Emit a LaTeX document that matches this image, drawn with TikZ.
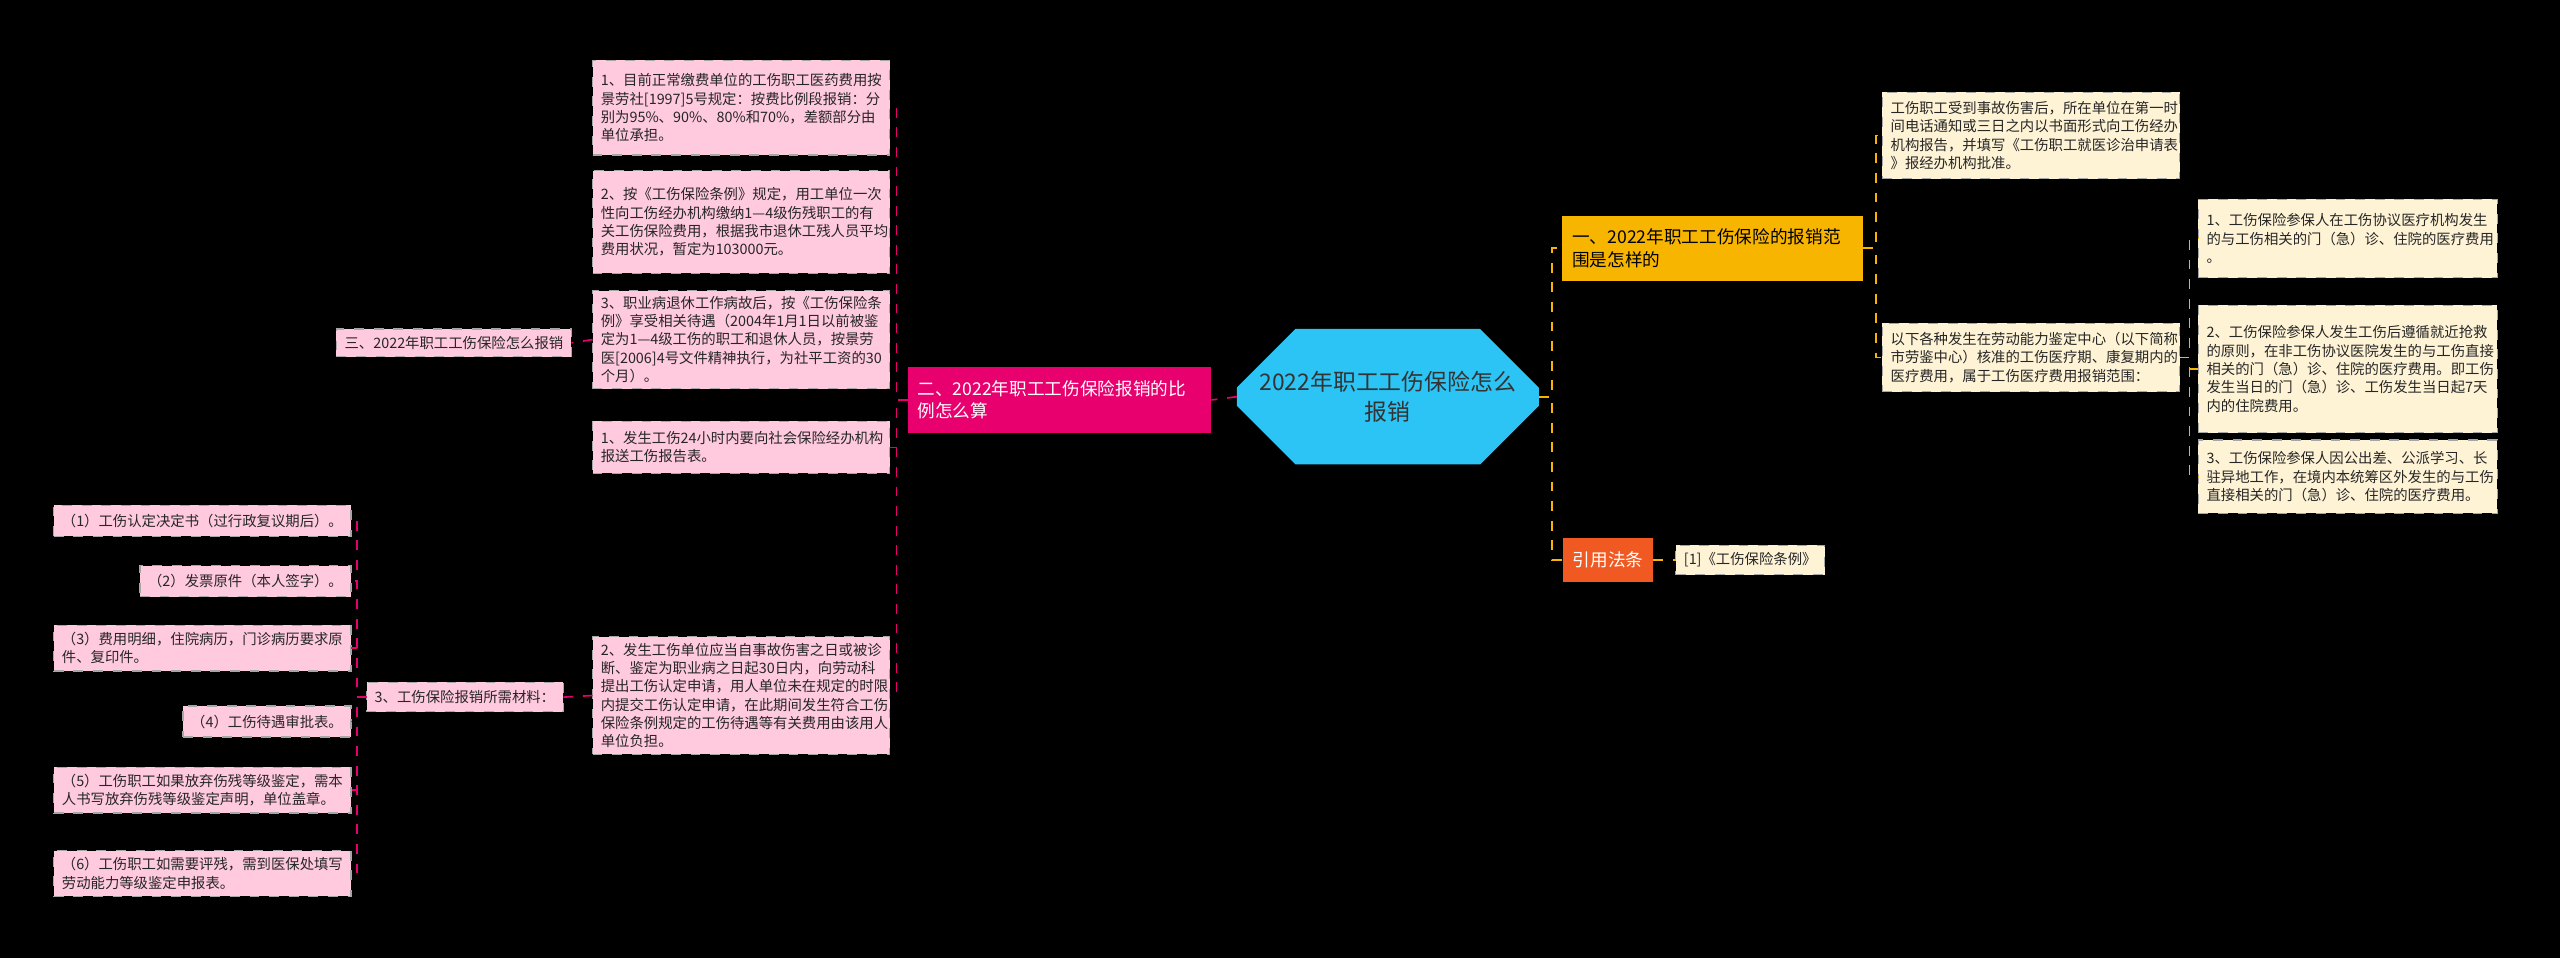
\documentclass[tikz,border=0pt]{standalone}
\usepackage{fontspec}
\setmainfont{Noto Sans CJK SC}
\usetikzlibrary{positioning, shapes.misc}
\definecolor{cyanroot}{HTML}{2BC4F4}
\definecolor{orangeb}{HTML}{F8B500}
\definecolor{redb}{HTML}{F05A22}
\definecolor{magb}{HTML}{E8006E}
\definecolor{creamf}{HTML}{FFF3D6}
\definecolor{pinkf}{HTML}{FFC9DE}
\tikzset{
    every node/.style = {inner sep=0pt, outer sep=0pt},
    leaf/.style = {draw=gray!70, dashed, line width=0.4pt, align=left,
        font=\fontsize{4.4}{5.6}\selectfont, text=black!85, inner xsep=2.5pt},
    cream/.style = {leaf, fill=creamf},
    pink/.style = {leaf, fill=pinkf},
    branch/.style = {align=left, font=\fontsize{5.4}{6.8}\selectfont, inner xsep=3pt},
    lnkO/.style = {draw=orangeb, dashed, line width=0.5pt},
    lnkM/.style = {draw=magb, dashed, line width=0.5pt}
}
\begin{document}
\begin{tikzpicture}[x=0.5pt, y=-0.5pt]
        \useasboundingbox[fill=black] (0,0) rectangle (1568,587);

        % root
        \node[chamfered rectangle, chamfered rectangle xsep=5pt, chamfered rectangle ysep=13pt,
            fill=cyanroot, minimum width=92.5pt, minimum height=26pt, align=center,
            font=\fontsize{7}{9}\selectfont, text=black!80] (root) at (850,243)
            {2022年职工工伤保险怎么\\报销};

        % right side
        \node[branch, fill=orangeb, minimum width=91pt, minimum height=20pt, text width=86pt] (b1) at (1049,152)
            {一、2022年职工工伤保险的报销范\\围是怎样的};
        \node[cream, minimum width=91pt, minimum height=26.5pt, text width=86pt] (b1a) at (1244,83)
            {工伤职工受到事故伤害后，所在单位在第一时\\间电话通知或三日之内以书面形式向工伤经办\\机构报告，并填写《工伤职工就医诊治申请表\\》报经办机构批准。};
        \node[cream, minimum width=91pt, minimum height=21pt, text width=86pt] (b1b) at (1244,219)
            {以下各种发生在劳动能力鉴定中心（以下简称\\市劳鉴中心）核准的工伤医疗期、康复期内的\\医疗费用，属于工伤医疗费用报销范围：};
        \node[cream, minimum width=91.5pt, minimum height=24pt, text width=86.5pt] (g1) at (1438,146)
            {1、工伤保险参保人在工伤协议医疗机构发生\\的与工伤相关的门（急）诊、住院的医疗费用\\。};
        \node[cream, minimum width=91.5pt, minimum height=39pt, text width=86.5pt] (g2) at (1438,226)
            {2、工伤保险参保人发生工伤后遵循就近抢救\\的原则，在非工伤协议医院发生的与工伤直接\\相关的门（急）诊、住院的医疗费用。即工伤\\发生当日的门（急）诊、工伤发生当日起7天\\内的住院费用。};
        \node[cream, minimum width=91.5pt, minimum height=22.5pt, text width=86.5pt] (g3) at (1438,292)
            {3、工伤保险参保人因公出差、公派学习、长\\驻异地工作，在境内本统筹区外发生的与工伤\\直接相关的门（急）诊、住院的医疗费用。};
        \node[branch, fill=redb, text=white, minimum width=27pt, minimum height=13.5pt, align=center] (law) at (985,343) {引用法条};
        \node[cream, minimum height=9pt] (lawc) at (1072,343) {[1]《工伤保险条例》};

        % left side
        \node[branch, fill=magb, text=white, minimum width=92pt, minimum height=20pt, text width=87pt] (b2) at (649,245)
            {二、2022年职工工伤保险报销的比\\例怎么算};
        \node[pink, minimum width=91pt, minimum height=29pt, text width=86pt] (L1) at (454,66)
            {1、目前正常缴费单位的工伤职工医药费用按\\景劳社[1997]5号规定：按费比例段报销：分\\别为95\%、90\%、80\%和70\%，差额部分由\\单位承担。};
        \node[pink, minimum width=91pt, minimum height=31.5pt, text width=86pt] (L2) at (454,136)
            {2、按《工伤保险条例》规定，用工单位一次\\性向工伤经办机构缴纳1—4级伤残职工的有\\关工伤保险费用，根据我市退休工残人员平均\\费用状况，暂定为103000元。};
        \node[pink, minimum width=91pt, minimum height=30pt, text width=86pt] (L3) at (454,208)
            {3、职业病退休工作病故后，按《工伤保险条\\例》享受相关待遇（2004年1月1日以前被鉴\\定为1—4级工伤的职工和退休人员，按景劳\\医[2006]4号文件精神执行，为社平工资的30\\个月）。};
        \node[pink, minimum width=91pt, minimum height=16pt, text width=86pt] (L4) at (454,274)
            {1、发生工伤24小时内要向社会保险经办机构\\报送工伤报告表。};
        \node[pink, minimum width=91pt, minimum height=36pt, text width=86pt] (L5) at (454,426)
            {2、发生工伤单位应当自事故伤害之日或被诊\\断、鉴定为职业病之日起30日内，向劳动科\\提出工伤认定申请，用人单位未在规定的时限\\内提交工伤认定申请，在此期间发生符合工伤\\保险条例规定的工伤待遇等有关费用由该用人\\单位负担。};
        \node[pink, minimum height=8.5pt, anchor=east] (san) at (350,210) {三、2022年职工工伤保险怎么报销};
        \node[pink, minimum height=9pt, anchor=east] (cl) at (345,427) {3、工伤保险报销所需材料：};

        \node[pink, minimum height=9.5pt, anchor=east] (m1) at (215,319) {（1）工伤认定决定书（过行政复议期后）。};
        \node[pink, minimum height=9.5pt, anchor=east] (m2) at (215,356) {（2）发票原件（本人签字）。};
        \node[pink, minimum height=14pt, anchor=east] (m3) at (215,397) {（3）费用明细，住院病历，门诊病历要求原\\件、复印件。};
        \node[pink, minimum height=9.5pt, anchor=east] (m4) at (215,442) {（4）工伤待遇审批表。};
        \node[pink, minimum height=14pt, anchor=east] (m5) at (215,484) {（5）工伤职工如果放弃伤残等级鉴定，需本\\人书写放弃伤残等级鉴定声明，单位盖章。};
        \node[pink, minimum height=14pt, anchor=east] (m6) at (215,535) {（6）工伤职工如需要评残，需到医保处填写\\劳动能力等级鉴定申报表。};

        % connectors
        \foreach \t in {b1, law}
            \draw[lnkO] (root.east) -- ++(8,0) |- (\t.west);
        \foreach \t in {b1a, b1b}
            \draw[lnkO] (b1.east) -- ++(8,0) |- (\t.west);
        \foreach \t in {g1, g2, g3}
            \draw[lnkO] (b1b.east) -- ++(6,0) |- (\t.west);
        \draw[lnkO] (law.east) -- (lawc.west);

        \draw[lnkM] (root.west) -- (b2.east);
        \foreach \t in {L1, L2, L3, L4, L5}
            \draw[lnkM] (b2.west) -- ++(-7,0) |- (\t.east);
        \draw[lnkM] (L3.west) -- (san.east);
        \draw[lnkM] (L5.west) -- (cl.east);
        \foreach \t in {m1, m2, m3, m4, m5, m6}
            \draw[lnkM] (cl.west) -- ++(-6,0) |- (\t.east);
\end{tikzpicture}
\end{document}
